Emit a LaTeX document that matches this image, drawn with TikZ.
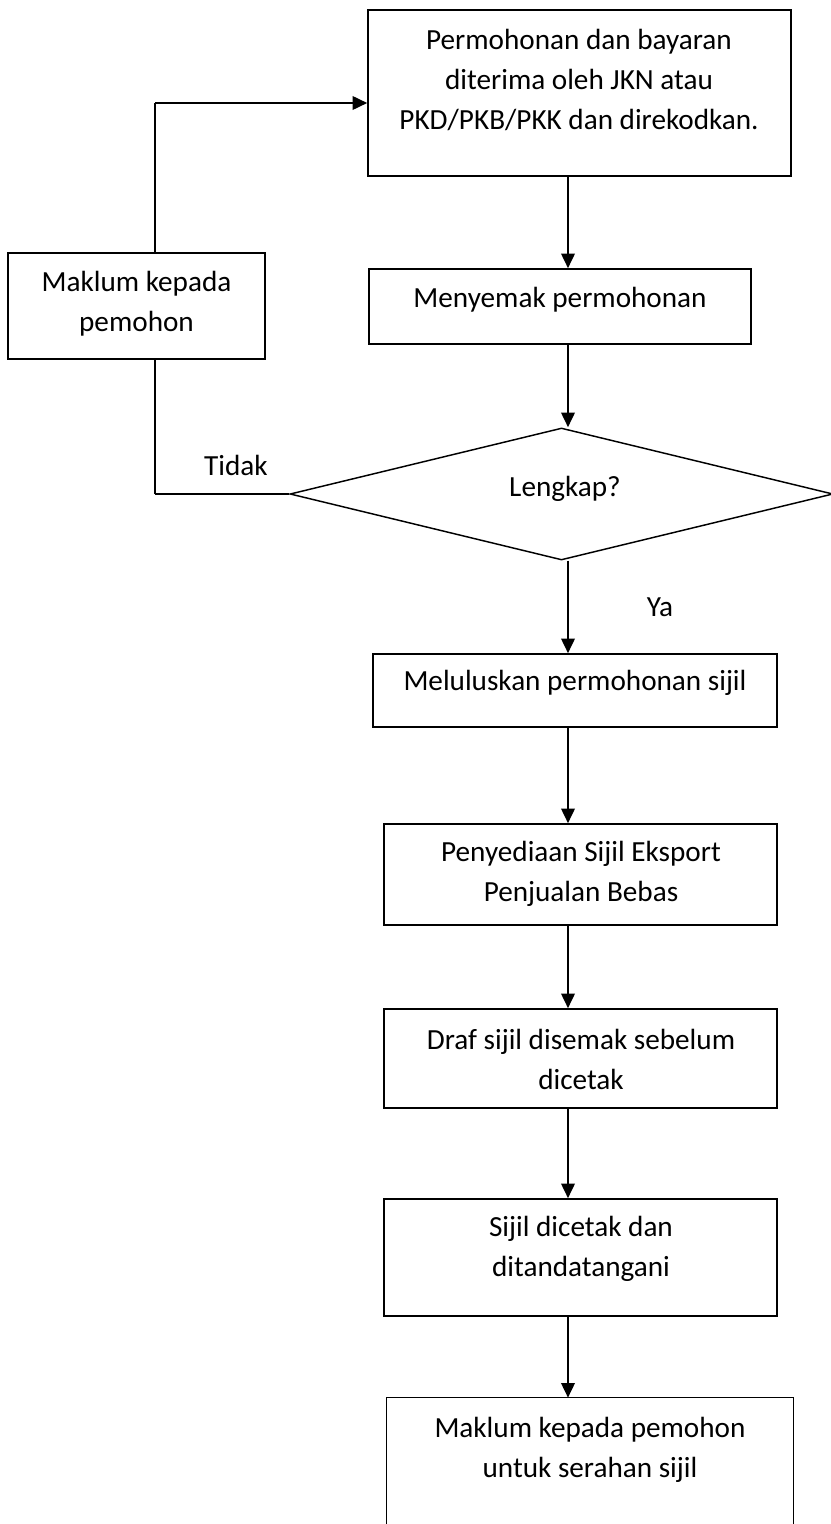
\documentclass[tikz,border=0pt]{standalone}
\usepackage{fontspec}
\setmainfont{Carlito}
\usetikzlibrary{shapes.geometric,fit,arrows.meta}
\begin{document}
\begin{tikzpicture}[x=0.75pt,y=-0.75pt,
  box/.style={draw=black,line width=1.1pt,inner sep=0pt,rectangle},
  hole/.style={inner sep=0pt,rectangle},
  lbl/.style={font=\fontsize{21.9}{30}\selectfont,align=center,inner sep=0pt},
  arr/.style={line width=1.9pt,-{Triangle[length=11pt,width=10pt]}},
  ln/.style={line width=1.6pt},
  thinln/.style={line width=1.1pt}]
\useasboundingbox (0,0) rectangle (831,1524);
\fill[white] (0,0) rectangle (831,1524);

% boxes
\node[box,fit={(368,10) (791,176)}] (b1) {};
\node[box,fit={(8,253) (265,359)}] (m) {};
\node[box,fit={(369,269) (751,344)}] (b2) {};
\node[draw=black,line width=1.1pt,diamond,inner sep=0pt,minimum width=407.25pt,minimum height=99pt] (d) at (561.5,494) {};
\node[box,fit={(373,654) (777,727)}] (b3) {};
\node[box,fit={(384,824) (777,925)}] (b4) {};
\node[box,fit={(384,1009) (777,1108)}] (b5) {};
\node[box,fit={(384,1199) (777,1316)}] (b6) {};
\node[hole,fit={(387,1398) (793,1530)}] (b7) {};
\draw[thinln] (b7.south west) -- (b7.north west) -- (b7.north east) -- (b7.south east);

% texts
\node[lbl] (t1) at (579,80) {Permohonan dan bayaran\\diterima oleh JKN atau\\PKD/PKB/PKK dan direkodkan.};
\node[lbl] (tm) at (136.5,304) {Maklum kepada\\pemohon};
\node[lbl] (t2) at (560,300) {Menyemak permohonan};
\node[lbl] (td) at (565,489) {Lengkap?};
\node[lbl] (t3) at (575,683) {Meluluskan permohonan sijil};
\node[lbl] (t4) at (581,874) {Penyediaan Sijil Eksport\\Penjualan Bebas};
\node[lbl] (t5) at (581,1059) {Draf sijil disemak sebelum\\dicetak};
\node[lbl] (t6) at (581,1249) {Sijil dicetak dan\\ditandatangani};
\node[lbl] (t7) at (590,1450) {Maklum kepada pemohon\\untuk serahan sijil};
\node[lbl] (tidak) at (236,465) {Tidak};
\node[lbl] (ya) at (660,607) {Ya};

% connectors
\coordinate (cx) at (568,0);
\coordinate (fb) at (155,103);
\draw[arr] (b1.south -| cx) -- (b2.north -| cx);
\draw[arr] (b2.south -| cx) -- (d.north -| cx);
\draw[arr] (d.south -| cx) -- (b3.north -| cx);
\draw[arr] (b3.south -| cx) -- (b4.north -| cx);
\draw[arr] (b4.south -| cx) -- (b5.north -| cx);
\draw[arr] (b5.south -| cx) -- (b6.north -| cx);
\draw[arr] (b6.south -| cx) -- (b7.north -| cx);
\draw[ln] (d.west) -- (d.west -| fb);
\draw[thinln] (d.west -| fb) -- (m.south -| fb);
\draw[thinln] (m.north -| fb) -- (fb);
\draw[arr] (fb) -- (fb -| b1.west);
\end{tikzpicture}
\end{document}
